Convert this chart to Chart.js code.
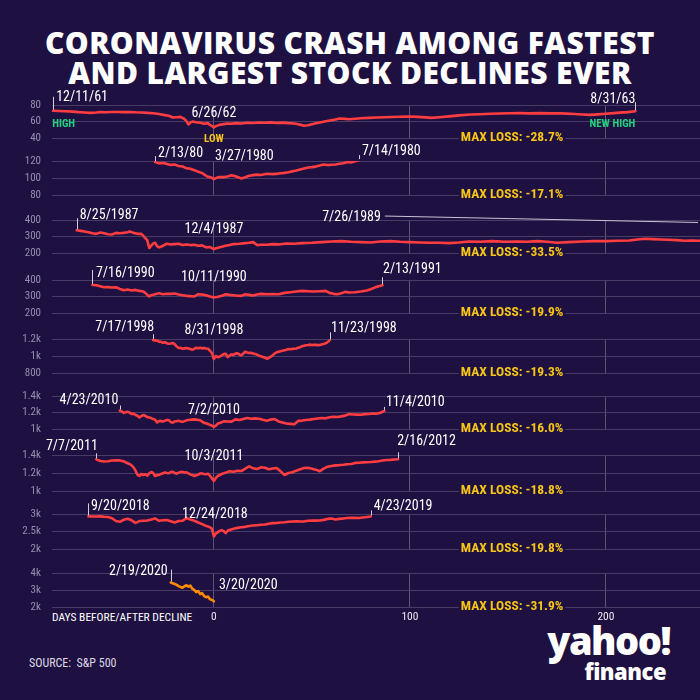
<!DOCTYPE html>
<html>
<head>
<meta charset="utf-8">
<title>Coronavirus crash among fastest and largest stock declines ever</title>
<script src="https://cdn.jsdelivr.net/npm/chart.js@4.4.1/dist/chart.umd.min.js"></script>
<style>
  html, body { margin: 0; padding: 0; background: #1e1040; }
  #page { position: relative; width: 700px; height: 700px; overflow: hidden; background: #1e1040; }
  #page canvas { position: absolute; left: 0; }
  .title {
    position: absolute; top: 28px; left: 0; width: 700px; text-align: center; color: #fff;
    font: 800 30px/30px "Open Sans", sans-serif; letter-spacing: 0.4px;
  }
  .axis-name {
    position: absolute; left: 52px; top: 610px; color: #fff;
    font: 11.5px/14px "Liberation Sans Narrow", "Roboto Condensed", sans-serif;
  }
  .source {
    position: absolute; left: 29px; top: 655px; color: #dcd8e6;
    font: 12px/16px "Liberation Sans Narrow", "Roboto Condensed", sans-serif;
  }
  .logo { position: absolute; right: 30px; top: 620px; text-align: right; color: #fff; font-family: "Open Sans", sans-serif; font-weight: 800; }
  .logo .yahoo { font-size: 38px; line-height: 40px; letter-spacing: -1.5px; }
  .logo .finance { font-size: 22px; line-height: 22px; letter-spacing: -0.5px; margin-right: 4px; }
</style>
</head>
<body>
<div id="page">
  <div class="title">CORONAVIRUS CRASH AMONG FASTEST<br>AND LARGEST STOCK DECLINES EVER</div>
  <div class="axis-name">DAYS BEFORE/AFTER DECLINE</div>
  <div class="source">SOURCE:&nbsp; S&amp;P 500</div>
  <div class="logo"><div class="yahoo">yahoo!</div><div class="finance">finance</div></div>
</div>
<script>
// S&P 500 closes, x = trading days before/after the low of each decline

const days1961 = [
  -82, -79, -76, -72, -69, -66, -63, -60, -58, -55,
  -52, -49, -46, -43, -40, -37, -34, -31, -28, -25,
  -23, -21, -19, -17, -16, -15, -14, -13, -12, -11,
  -9, -7, -5, -3, -2, -1, 0, 1, 3, 5,
  7, 9, 11, 14, 17, 20, 23, 26, 29, 32,
  35, 38, 41, 43, 45, 46, 48, 50, 52, 54,
  57, 60, 62, 64, 67, 69, 72, 75, 79, 83,
  87, 91, 95, 100, 104, 108, 111, 115, 120, 125,
  131, 136, 141, 146, 151, 156, 161, 166, 171, 176,
  180, 184, 188, 192, 196, 200, 204, 207, 211, 215
];
const close1961 = [
  73.0, 72.8, 72.4, 72.0, 71.4, 71.0, 70.5, 70.9, 71.6, 71.3,
  71.5, 71.6, 71.4, 71.6, 71.2, 71.0, 70.5, 70.0, 69.0, 67.7,
  67.0, 64.8, 65.2, 65.6, 64.2, 63.0, 60.5, 56.4, 58.6, 60.0,
  59.0, 58.4, 57.2, 58.0, 55.8, 54.6, 52.8, 54.4, 56.0, 56.8,
  57.6, 57.2, 58.0, 57.6, 58.4, 58.2, 58.8, 58.4, 58.9, 58.2,
  58.6, 58.0, 57.6, 56.6, 55.6, 54.8, 55.4, 56.6, 57.8, 58.8,
  60.2, 61.6, 62.4, 63.6, 63.2, 62.8, 63.4, 64.0, 64.4, 64.8,
  65.2, 65.4, 65.8, 66.0, 65.6, 65.0, 64.4, 65.2, 66.2, 67.4,
  68.4, 68.8, 69.4, 69.7, 70.0, 70.2, 69.9, 70.1, 69.8, 70.0,
  69.6, 69.0, 68.4, 68.0, 68.6, 69.4, 70.2, 70.8, 71.4, 72.5
];

const days1980 = [
  -30, -28, -26, -24, -22, -20, -18, -16, -14, -12,
  -10, -9, -8, -7, -6, -5, -4, -3, -2, -1,
  0, 1, 2, 3, 5, 7, 9, 11, 13, 14,
  16, 18, 20, 22, 24, 27, 30, 33, 36, 38,
  40, 42, 44, 46, 48, 50, 52, 54, 56, 58,
  60, 62, 64, 66, 68, 70, 72, 74
];
const close1980 = [
  118.8, 117.2, 117.6, 116.6, 115.4, 115.8, 114.2, 113.6, 111.4, 110.8,
  109.2, 108.4, 107.4, 106.6, 106.0, 104.2, 102.6, 101.4, 101.0, 100.2,
  98.6, 99.8, 100.8, 101.2, 101.0, 101.8, 103.2, 102.0, 100.4, 99.4,
  100.8, 102.6, 103.4, 104.0, 103.6, 105.0, 104.6, 105.2, 106.0, 106.8,
  107.8, 108.8, 110.0, 111.2, 112.4, 112.8, 113.4, 114.6, 115.8, 115.2,
  115.6, 115.9, 116.8, 117.4, 118.8, 118.2, 119.6, 121.0
];

const days1987 = [
  -70, -68, -66, -64, -62, -60, -58, -56, -54, -52,
  -50, -48, -46, -44, -43, -41, -39, -37, -36, -35,
  -34, -33, -32, -31, -30, -29, -28, -27, -26, -24,
  -22, -20, -18, -16, -14, -12, -10, -8, -6, -4,
  -2, 0, 2, 4, 6, 8, 10, 13, 16, 18,
  20, 22, 24, 27, 30, 33, 37, 41, 45, 50,
  55, 60, 65, 70, 75, 80, 85, 90, 95, 100,
  105, 110, 115, 120, 125, 130, 136, 142, 148, 155,
  160, 165, 170, 175, 181, 188, 194, 200, 206, 212,
  216, 220, 224, 228, 232, 236, 240, 244, 248
];
const close1987 = [
  338, 334, 330, 326, 320, 316, 324, 320, 314, 312,
  322, 320, 322, 326, 330, 322, 316, 316, 304, 290,
  278, 230, 244, 258, 262, 242, 234, 238, 244, 256,
  252, 254, 256, 248, 252, 248, 250, 244, 246, 234,
  236, 224, 232, 238, 244, 248, 254, 256, 260, 262,
  266, 248, 250, 250, 254, 252, 258, 256, 260, 262,
  266, 270, 272, 268, 266, 264, 270, 272, 268, 266,
  264, 262, 262, 260, 264, 270, 268, 272, 268, 270,
  268, 272, 268, 262, 266, 270, 272, 272, 274, 276,
  282, 286, 284, 282, 280, 278, 274, 276, 274
];

const days1990 = [
  -62, -60, -58, -56, -54, -52, -50, -48, -46, -44,
  -42, -40, -38, -36, -35, -34, -33, -32, -30, -28,
  -26, -24, -22, -20, -18, -16, -14, -12, -10, -8,
  -6, -4, -2, 0, 2, 4, 6, 8, 10, 12,
  14, 16, 18, 20, 22, 24, 27, 30, 33, 36,
  39, 42, 45, 48, 51, 54, 57, 59, 61, 63,
  65, 67, 69, 72, 75, 78, 80, 82, 84, 86
];
const close1990 = [
  370, 368, 362, 356, 357, 355, 356, 346, 338, 342,
  336, 340, 334, 330, 322, 310, 300, 308, 314, 320,
  314, 317, 316, 318, 312, 308, 304, 302, 300, 314,
  312, 308, 300, 294, 298, 304, 314, 310, 308, 305,
  304, 314, 310, 306, 312, 316, 314, 315, 314, 322,
  326, 330, 334, 332, 330, 332, 334, 322, 316, 314,
  320, 328, 324, 326, 330, 336, 344, 354, 362, 368
];

const days1998 = [
  -31, -30, -29, -28, -27, -26, -25, -24, -23, -22,
  -21, -20, -19, -18, -17, -16, -15, -14, -13, -12,
  -11, -10, -9, -8, -7, -6, -5, -4, -3, -2,
  -1, 0, 1, 2, 3, 4, 5, 6, 7, 8,
  9, 10, 11, 12, 13, 14, 15, 16, 17, 18,
  19, 20, 21, 22, 23, 24, 25, 26, 27, 28,
  29, 30, 31, 32, 33, 34, 35, 36, 37, 38,
  39, 40, 41, 42, 43, 44, 45, 46, 47, 48,
  49, 50, 51, 52, 53, 54, 55, 56, 57, 58,
  59
];
const close1998 = [
  1186, 1184, 1180, 1168, 1166, 1156, 1162, 1150, 1145, 1148,
  1153, 1140, 1112, 1094, 1096, 1086, 1090, 1094, 1089, 1082,
  1074, 1084, 1098, 1092, 1096, 1090, 1094, 1088, 1086, 1062,
  1035, 965, 1000, 985, 994, 1008, 1022, 1027, 988, 1004,
  1020, 1012, 1028, 1032, 1018, 1008, 1030, 1051, 1040, 1035,
  1038, 1028, 1024, 1016, 1004, 996, 988, 980, 968, 976,
  992, 1010, 1030, 1043, 1050, 1056, 1062, 1068, 1074, 1082,
  1080, 1084, 1086, 1088, 1096, 1104, 1114, 1120, 1126, 1129,
  1134, 1130, 1133, 1131, 1128, 1129, 1136, 1142, 1149, 1163,
  1184
];

const days2010 = [
  -48, -47, -46, -45, -44, -43, -42, -41, -40, -39,
  -38, -37, -36, -35, -34, -32, -30, -29, -28, -27,
  -26, -24, -23, -22, -21, -20, -18, -16, -14, -12,
  -10, -8, -7, -6, -5, -4, -3, -2, -1, 0,
  1, 2, 3, 5, 7, 9, 11, 13, 15, 17,
  19, 21, 23, 25, 27, 29, 31, 33, 35, 37,
  39, 41, 43, 45, 47, 49, 51, 53, 55, 57,
  59, 61, 63, 65, 67, 69, 71, 73, 75, 77,
  79, 81, 83, 85, 87
];
const close2010 = [
  1224, 1212, 1196, 1204, 1208, 1198, 1181, 1186, 1170, 1161,
  1140, 1158, 1169, 1160, 1145, 1132, 1113, 1080, 1096, 1098,
  1090, 1110, 1108, 1084, 1077, 1092, 1101, 1086, 1105, 1112,
  1117, 1110, 1106, 1090, 1074, 1070, 1060, 1050, 1040, 1025,
  1040, 1066, 1072, 1093, 1090, 1089, 1117, 1110, 1122, 1133,
  1124, 1129, 1125, 1112, 1101, 1114, 1121, 1092, 1080, 1066,
  1062, 1057, 1098, 1102, 1110, 1114, 1121, 1128, 1133, 1129,
  1142, 1149, 1146, 1153, 1162, 1181, 1176, 1174, 1173, 1180,
  1182, 1188, 1186, 1197, 1220
];

const days2011 = [
  -60, -58, -56, -54, -52, -50, -48, -46, -44, -43,
  -42, -41, -40, -39, -38, -37, -36, -35, -34, -33,
  -32, -31, -30, -29, -28, -27, -26, -25, -24, -23,
  -22, -21, -20, -19, -18, -17, -16, -15, -14, -13,
  -12, -11, -10, -9, -8, -7, -6, -5, -4, -3,
  -2, -1, 0, 1, 2, 4, 6, 8, 10, 12,
  14, 16, 18, 20, 22, 24, 26, 28, 30, 32,
  34, 36, 38, 40, 42, 44, 46, 48, 50, 52,
  54, 56, 58, 60, 62, 64, 66, 68, 70, 72,
  74, 76, 78, 80, 82, 84, 86, 88, 90, 92,
  94
];
const close2011 = [
  1352, 1333, 1328, 1330, 1338, 1342, 1340, 1330, 1308, 1300,
  1284, 1262, 1226, 1180, 1167, 1189, 1178, 1186, 1170, 1196,
  1211, 1200, 1167, 1176, 1178, 1190, 1196, 1206, 1200, 1198,
  1211, 1214, 1200, 1192, 1204, 1211, 1212, 1206, 1208, 1196,
  1184, 1178, 1166, 1174, 1182, 1196, 1194, 1189, 1186, 1192,
  1170, 1140, 1112, 1145, 1167, 1189, 1204, 1219, 1214, 1224,
  1222, 1248, 1274, 1252, 1244, 1263, 1259, 1241, 1250, 1255,
  1219, 1178, 1200, 1208, 1226, 1241, 1255, 1259, 1248, 1237,
  1219, 1248, 1270, 1278, 1285, 1288, 1292, 1298, 1300, 1312,
  1314, 1318, 1320, 1322, 1326, 1331, 1338, 1344, 1346, 1350,
  1352
];

const days2018 = [
  -64, -62, -60, -58, -56, -54, -52, -50, -48, -46,
  -44, -42, -40, -38, -36, -34, -32, -30, -28, -26,
  -24, -22, -20, -18, -16, -14, -12, -10, -8, -6,
  -4, -2, -1, 0, 1, 2, 3, 4, 5, 6,
  7, 8, 10, 12, 14, 16, 18, 20, 22, 24,
  26, 28, 30, 32, 34, 36, 38, 40, 42, 44,
  46, 48, 50, 52, 54, 56, 58, 60, 62, 64,
  66, 68, 70, 72, 74, 76, 78, 80
];
const close2018 = [
  2931, 2930, 2928, 2931, 2920, 2913, 2880, 2800, 2777, 2835,
  2864, 2820, 2748, 2798, 2806, 2815, 2840, 2873, 2806, 2820,
  2827, 2790, 2757, 2798, 2806, 2884, 2840, 2806, 2757, 2711,
  2660, 2620, 2575, 2360, 2440, 2480, 2517, 2538, 2510, 2451,
  2520, 2546, 2580, 2604, 2620, 2633, 2655, 2671, 2680, 2691,
  2700, 2720, 2740, 2745, 2757, 2764, 2778, 2786, 2790, 2786,
  2790, 2805, 2815, 2812, 2815, 2832, 2860, 2873, 2844, 2860,
  2873, 2884, 2893, 2888, 2884, 2900, 2915, 2931
];

const days2020 = [
  -22, -21, -20, -19, -18, -17, -16, -15, -14, -13,
  -12, -11, -10, -9, -8, -7, -6, -5, -4, -3,
  -2, -1, 0
];
const close2020 = [
  3436, 3390, 3358, 3298, 3230, 3180, 3136, 3220, 3280, 3196,
  3256, 3076, 3000, 2878, 2938, 2758, 2818, 2638, 2578, 2620,
  2458, 2418, 2338
];

// y-axis ticks of each panel (bottom, middle, top)
const ticks1961 = [40, 60, 80];
const ticks1980 = [80, 100, 120];
const ticks1987 = [200, 300, 400];
const ticks1990 = [200, 300, 400];
const ticks1998 = [800, 1000, 1200];
const ticks2010 = [1000, 1200, 1400];
const ticks2011 = [1000, 1200, 1400];
const ticks2018 = [2000, 2500, 3000];
const ticks2020 = [2000, 3000, 4000];
const xTicks = [0, 100, 200];

// annotations: anchored on the first / last / lowest point of a series
const notes1961 = [
  { at: 'first', text: '12/11/61', kind: 'date', align: 'left', dx: 3, dy: -13, tick: 13 },
  { at: 'first', text: 'HIGH', kind: 'high', align: 'left', dx: -1, dy: 13.5 },
  { at: 'low', text: '6/26/62', kind: 'date', align: 'center', dx: 0, dy: -13.5 },
  { at: 'low', text: 'LOW', kind: 'low', align: 'center', dx: 0, dy: 11.5 },
  { at: 'last', text: '8/31/63', kind: 'date', align: 'right', dx: 0, dy: -12, tick: 8 },
  { at: 'last', text: 'NEW HIGH', kind: 'high', align: 'right', dx: 0, dy: 13 },
  { at: 'loss', text: 'MAX LOSS: -28.7%', kind: 'loss', align: 'left', dx: 0, dy: 0 }
];
const notes1980 = [
  { at: 'first', text: '2/13/80', kind: 'date', align: 'left', dx: 3, dy: -9, tick: 5 },
  { at: 'low', text: '3/27/1980', kind: 'date', align: 'left', dx: 1, dy: -23 },
  { at: 'last', text: '7/14/1980', kind: 'date', align: 'left', dx: 3, dy: -9, tick: 4 },
  { at: 'loss', text: 'MAX LOSS: -17.1%', kind: 'loss', align: 'left', dx: 0, dy: 0 }
];
const notes1987 = [
  { at: 'first', text: '8/25/1987', kind: 'date', align: 'left', dx: 3, dy: -15, tick: 11 },
  { at: 'low', text: '12/4/1987', kind: 'date', align: 'center', dx: 0, dy: -20 },
  { at: { x: 85.2, y: 418 }, text: '7/26/1989', kind: 'date', align: 'right', dx: 0, dy: 0,
    leader: { x1: 87.2, y1: 424, x2: 247, y2: 385 } },
  { at: 'loss', text: 'MAX LOSS: -33.5%', kind: 'loss', align: 'left', dx: 0, dy: 0 }
];
const notes1990 = [
  { at: 'first', text: '7/16/1990', kind: 'date', align: 'left', dx: 3.5, dy: -11, tick: 14 },
  { at: 'low', text: '10/11/1990', kind: 'date', align: 'center', dx: 0, dy: -19.5 },
  { at: 'last', text: '2/13/1991', kind: 'date', align: 'left', dx: 0.5, dy: -16, tick: 7 },
  { at: 'loss', text: 'MAX LOSS: -19.9%', kind: 'loss', align: 'left', dx: 0, dy: 0 }
];
const notes1998 = [
  { at: 'first', text: '7/17/1998', kind: 'date', align: 'right', dx: 1, dy: -13, tick: 5 },
  { at: 'low', text: '8/31/1998', kind: 'date', align: 'center', dx: 0, dy: -28 },
  { at: 'last', text: '11/23/1998', kind: 'date', align: 'left', dx: 1.5, dy: -11.5, tick: 7 },
  { at: 'loss', text: 'MAX LOSS: -19.3%', kind: 'loss', align: 'left', dx: 0, dy: 0 }
];
const notes2010 = [
  { at: 'first', text: '4/23/2010', kind: 'date', align: 'right', dx: -1.5, dy: -10.5, tick: 4 },
  { at: 'low', text: '7/2/2010', kind: 'date', align: 'center', dx: 0, dy: -16.5 },
  { at: 'last', text: '11/4/2010', kind: 'date', align: 'left', dx: 1.5, dy: -8, tick: 3 },
  { at: 'loss', text: 'MAX LOSS: -16.0%', kind: 'loss', align: 'left', dx: 0, dy: 0 }
];
const notes2011 = [
  { at: 'first', text: '7/7/2011', kind: 'date', align: 'right', dx: 1.5, dy: -13.3, tick: 5 },
  { at: 'low', text: '10/3/2011', kind: 'date', align: 'center', dx: 0, dy: -24 },
  { at: 'last', text: '2/16/2012', kind: 'date', align: 'left', dx: -1, dy: -18, tick: 6 },
  { at: 'loss', text: 'MAX LOSS: -18.8%', kind: 'loss', align: 'left', dx: 0, dy: 0 }
];
const notes2018 = [
  { at: 'first', text: '9/20/2018', kind: 'date', align: 'left', dx: 2.5, dy: -9.5, tick: 12 },
  { at: 'low', text: '12/24/2018', kind: 'date', align: 'center', dx: 1, dy: -22 },
  { at: 'last', text: '4/23/2019', kind: 'date', align: 'left', dx: 3, dy: -9.5, tick: 5 },
  { at: 'loss', text: 'MAX LOSS: -19.8%', kind: 'loss', align: 'left', dx: 0, dy: 0 }
];
const notes2020 = [
  { at: 'first', text: '2/19/2020', kind: 'date', align: 'right', dx: -3, dy: -10.6, tick: 12 },
  { at: 'low', text: '3/20/2020', kind: 'date', align: 'left', dx: 5, dy: -16 },
  { at: 'loss', text: 'MAX LOSS: -31.9%', kind: 'loss', align: 'left', dx: 0, dy: 0 }
];

const BG = '#1e1040';
const RED = '#ff3d41';
const ORANGE = '#ff8a00';
const GRID_H = '#463c66';
const GRID_V = '#5c5579';
const NARROW = '"Liberation Sans Narrow", "Arial Narrow", "Roboto Condensed", "DejaVu Sans Condensed", sans-serif';
const X_MIN = -82.6, X_MAX = 248;
const LOSS_DAY = 126;
const PAD_T = 40, PAD_B = 22;

const noteStyle = {
  date: { font: '14px ' + NARROW, color: '#ffffff' },
  high: { font: 'bold 11px ' + NARROW, color: '#1fd37e' },
  low: { font: 'bold 11px ' + NARROW, color: '#f6c516' },
  loss: { font: 'bold 13.5px ' + NARROW, color: '#f6c516' }
};

// top / bottom gridline of every panel in page pixels
const panels = [
  { days: days1961, close: close1961, ticks: ticks1961, color: RED, top: 105, bottom: 138, notes: notes1961 },
  { days: days1980, close: close1980, ticks: ticks1980, color: RED, top: 161, bottom: 195, notes: notes1980 },
  { days: days1987, close: close1987, ticks: ticks1987, color: RED, top: 220, bottom: 253, notes: notes1987 },
  { days: days1990, close: close1990, ticks: ticks1990, color: RED, top: 280, bottom: 313, notes: notes1990 },
  { days: days1998, close: close1998, ticks: ticks1998, color: RED, top: 339, bottom: 373, notes: notes1998 },
  { days: days2010, close: close2010, ticks: ticks2010, color: RED, top: 396, bottom: 429, notes: notes2010 },
  { days: days2011, close: close2011, ticks: ticks2011, color: RED, top: 455, bottom: 491, notes: notes2011 },
  { days: days2018, close: close2018, ticks: ticks2018, color: RED, top: 514, bottom: 549, notes: notes2018 },
  { days: days2020, close: close2020, ticks: ticks2020, color: ORANGE, top: 573, bottom: 607, notes: notes2020 }
];

const fmtTick = v => v >= 1000 ? (v / 1000) + 'k' : String(v);

// where a note hangs on its panel, in data units
function anchorOf(panel, at) {
  const n = panel.days.length;
  if (at === 'first') return { x: panel.days[0], y: panel.close[0] };
  if (at === 'last') return { x: panel.days[n - 1], y: panel.close[n - 1] };
  if (at === 'low') {
    const i = panel.close.indexOf(Math.min(...panel.close));
    return { x: panel.days[i], y: panel.close[i] };
  }
  if (at === 'loss') return { x: LOSS_DAY, y: panel.ticks[0] };
  return at;
}

function notesPlugin(panel, withDayLabels) {
  return {
    id: 'notes',
    afterDatasetsDraw(chart) {
      const { ctx } = chart;
      const xs = chart.scales.x, ys = chart.scales.y;
      ctx.save();
      panel.notes.forEach(note => {
        const a = anchorOf(panel, note.at);
        const px = xs.getPixelForValue(a.x);
        const py = ys.getPixelForValue(a.y);
        const st = noteStyle[note.kind];

        if (note.tick) {
          ctx.strokeStyle = '#d2d0dc';
          ctx.lineWidth = 1;
          ctx.beginPath();
          ctx.moveTo(Math.round(px) + 0.5, py - 1);
          ctx.lineTo(Math.round(px) + 0.5, py - 1 - note.tick);
          ctx.stroke();
        }
        if (note.leader) {
          const l = note.leader;
          ctx.strokeStyle = '#c9c6d6';
          ctx.lineWidth = 1;
          ctx.beginPath();
          ctx.moveTo(xs.getPixelForValue(l.x1), ys.getPixelForValue(l.y1));
          ctx.lineTo(xs.getPixelForValue(l.x2), ys.getPixelForValue(l.y2));
          ctx.stroke();
        }

        ctx.font = st.font;
        ctx.textAlign = note.align;
        ctx.textBaseline = 'middle';
        const tx = px + note.dx, ty = py + note.dy;
        if (note.kind === 'loss') {
          const w = ctx.measureText(note.text).width;
          ctx.fillStyle = BG;
          ctx.fillRect(tx - 2, ty - 7, w + 4, 14);
        }
        ctx.fillStyle = st.color;
        ctx.fillText(note.text, tx, ty);
      });

      // day labels under the bottom panel, placed by the x scale
      if (withDayLabels) {
        ctx.font = '11.5px ' + NARROW;
        ctx.fillStyle = '#ece9f3';
        ctx.textAlign = 'center';
        ctx.textBaseline = 'middle';
        xTicks.forEach(v => {
          ctx.fillText(String(v), xs.getPixelForValue(v), chart.chartArea.bottom + 10.5);
        });
      }
      ctx.restore();
    }
  };
}

const page = document.getElementById('page');

panels.forEach((panel, idx) => {
  const isLast = idx === panels.length - 1;
  const canvas = document.createElement('canvas');
  canvas.width = 700;
  canvas.height = PAD_T + (panel.bottom - panel.top) + PAD_B;
  canvas.style.top = (panel.top - PAD_T) + 'px';
  page.appendChild(canvas);

  new Chart(canvas, {
    type: 'line',
    data: {
      datasets: [{
        data: panel.days.map((d, i) => ({ x: d, y: panel.close[i] })),
        borderColor: panel.color,
        borderWidth: 2.6,
        borderJoinStyle: 'round',
        borderCapStyle: 'round',
        pointRadius: 0,
        tension: 0
      }]
    },
    options: {
      responsive: false,
      animation: false,
      layout: { padding: { top: PAD_T, bottom: PAD_B, left: 0, right: 0 } },
      plugins: { legend: { display: false }, tooltip: { enabled: false } },
      scales: {
        x: {
          type: 'linear',
          min: X_MIN,
          max: X_MAX,
          afterBuildTicks: s => { s.ticks = xTicks.map(v => ({ value: v })); },
          afterFit: s => { s.height = 0; },
          border: { display: false },
          grid: { color: GRID_V, lineWidth: 1, drawTicks: false },
          ticks: { display: false }
        },
        y: {
          min: panel.ticks[0],
          max: panel.ticks[panel.ticks.length - 1],
          afterBuildTicks: s => { s.ticks = panel.ticks.map(v => ({ value: v })); },
          afterFit: s => { s.width = 52; },
          border: { display: false },
          grid: { color: GRID_H, lineWidth: 1, drawTicks: false },
          ticks: {
            color: '#958fae',
            padding: 11,
            font: { family: NARROW, size: 11 },
            callback: v => fmtTick(v)
          }
        }
      }
    },
    plugins: [notesPlugin(panel, isLast)]
  });
});
</script>
</body>
</html>
